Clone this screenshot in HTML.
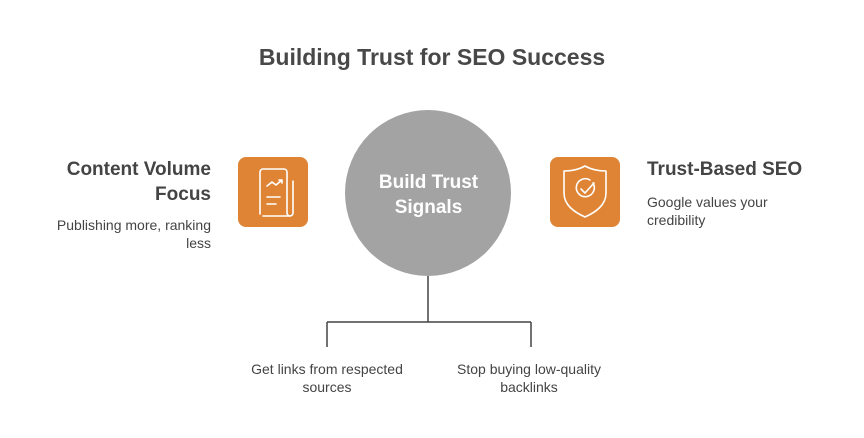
<!DOCTYPE html>
<html><head><style>
body{margin:0;width:864px;height:438px;background:#fff;font-family:"Liberation Sans",sans-serif;position:relative;overflow:hidden}
.t{position:absolute;color:#444}
</style></head><body>
<div class="t" style="left:0;width:864px;top:44px;text-align:center;font-size:23px;font-weight:bold;color:#484848">Building Trust for SEO Success</div>
<svg width="864" height="438" style="position:absolute;left:0;top:0">
<circle cx="428" cy="193" r="83" fill="#a3a3a3"/>
<path d="M428 276V322M327 322H531M327 322V347M531 322V347" stroke="#444" stroke-width="1.5" fill="none"/>
<rect x="238" y="157" width="70" height="70" rx="8" fill="#df8434"/>
<rect x="550" y="157" width="70" height="70" rx="8" fill="#df8434"/>
<g stroke="#fff" stroke-width="1.6" fill="none" stroke-linecap="round" stroke-linejoin="round">
<path d="M260 214V172a3 3 0 0 1 3-3h21a3 3 0 0 1 3 3v41a3 3 0 0 0 3 3a3 3 0 0 0 3-3V181"/>
<path d="M263 216h27"/>
<path d="M267 186l5-4 4 3 6-5M279 180h3v3"/>
<path d="M267 197h13M267 204h9"/>
<path d="M585 166c7 4 14 5 21 5v22c0 12-10 19-21 24c-11-5-21-12-21-24v-22c7 0 14-1 21-5z"/>
<path d="M593 183a9 9 0 1 1-3-3"/>
<path d="M581 189l4 4l9-10"/>
</g>
</svg>
<div class="t" style="left:345px;width:167px;top:170px;text-align:center;font-size:19px;font-weight:bold;color:#fff;line-height:25px">Build Trust<br>Signals</div>
<div class="t" style="right:653px;top:157px;text-align:right;font-size:19px;font-weight:bold;line-height:25px">Content Volume<br>Focus</div>
<div class="t" style="right:653px;top:216px;text-align:right;font-size:14px;line-height:18px">Publishing more, ranking<br>less</div>
<div class="t" style="left:647px;top:157px;font-size:19px;font-weight:bold;line-height:25px">Trust-Based SEO</div>
<div class="t" style="left:647px;top:193px;font-size:14px;line-height:18px">Google values your<br>credibility</div>
<div class="t" style="left:227px;width:200px;top:360px;text-align:center;font-size:14px;line-height:18px">Get links from respected<br>sources</div>
<div class="t" style="left:429px;width:200px;top:360px;text-align:center;font-size:14px;line-height:18px">Stop buying low-quality<br>backlinks</div>
</body></html>
